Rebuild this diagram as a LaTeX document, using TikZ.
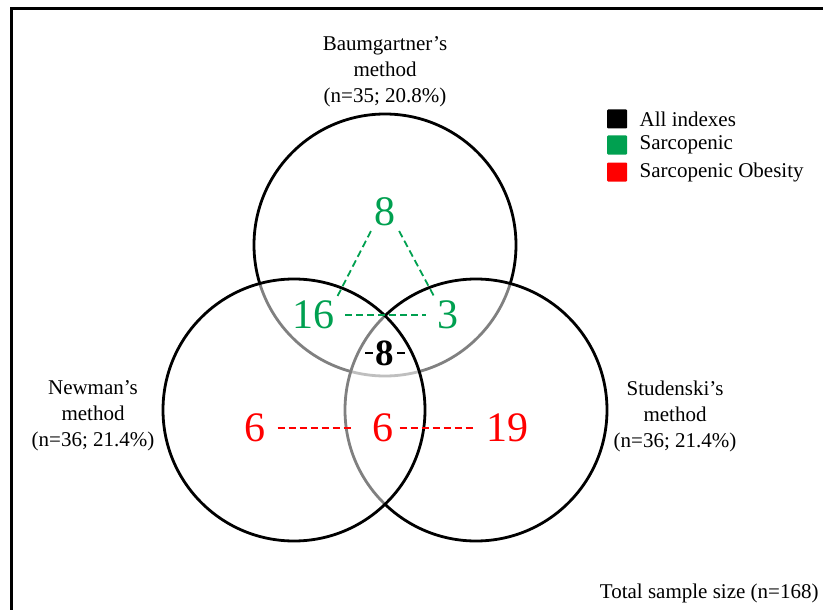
\documentclass[tikz,border=0pt]{standalone}
\usepackage{fontspec}
\setmainfont{Liberation Serif}
\usetikzlibrary{positioning}
\definecolor{sarcgreen}{RGB}{0,160,80}

\begin{document}
\begin{tikzpicture}[x=1pt, y=-1pt,
                    venn/.style={circle, draw=black, line width=2.8pt, fill=white, fill opacity=0.5, minimum size=262pt, inner sep=0pt},
                    method/.style={align=center, font=\fontsize{21}{26}\selectfont},
                    count/.style={font=\fontsize{42}{42}\selectfont, inner sep=2pt},
                    sarc/.style={dash pattern=on 7pt off 4pt, line width=1.8pt, sarcgreen},
                    obese/.style={dash pattern=on 7pt off 4pt, line width=1.8pt, red},
                    key/.style={rectangle, rounded corners=1pt, minimum width=20pt, minimum height=19pt, inner sep=0pt},
                    keytext/.style={font=\fontsize{21}{21}\selectfont}]

            \useasboundingbox (0,0) rectangle (823,610);
            \draw[line width=3pt] (11,615) -- (11,9) -- (830,9);

            % the three methods
            \node[venn] (baum) at (385,245) {};
            \node[venn] (stud) at (476,410) {};
            \node[venn] (newm) at (294,410) {};

            \node[method] (baumLbl) at (385,72)  {Baumgartner’s\\method\\(n=35; 20.8\%)};
            \node[method] (newmLbl) at (93,416)  {Newman’s\\method\\(n=36; 21.4\%)};
            \node[method] (studLbl) at (675,416) {Studenski’s\\method\\(n=36; 21.4\%)};

            % sarcopenic
            \node[count, text=sarcgreen] (g8)  at (385,212) {8};
            \node[count, text=sarcgreen] (g16) at (313,315) {16};
            \node[count, text=sarcgreen] (g3)  at (448,315) {3};

            \draw[sarc, shorten <=3pt] (g8.south west) -- (g16.north east);
            \draw[sarc, shorten <=3pt] (g8.south east) -- (g3.north west);
            \draw[sarc, shorten <=9pt, shorten >=9pt] (g16.east) -- (g3.west);

            % all indexes
            \node[font=\fontsize{37}{37}\selectfont\bfseries, inner sep=1pt] (all8) at (385,353) {8};
            \draw[line width=1.6pt] ([xshift=-2pt]all8.west) -- ++(-8,0);
            \draw[line width=1.6pt] ([xshift=2pt]all8.east) -- ++(8,0);

            % sarcopenic obesity
            \node[count, text=red] (r6a) at (255,428) {6};
            \node[count, text=red] (r6b) at (383,428) {6};
            \node[count, text=red] (r19) at (507,428) {19};

            \draw[obese, shorten <=10pt, shorten >=18pt] (r6a.east) -- (r6b.west);
            \draw[obese, shorten <=4pt, shorten >=9pt] (r6b.east) -- (r19.west);

            % legend
            \node[key, fill=black]     (keyAll)   at (617,119) {};
            \node[key, fill=sarcgreen] (keySarc)  at (617,145) {};
            \node[key, fill=red]       (keyObese) at (617,172) {};
            \node[keytext, right=9pt of keyAll]   (txtAll)   {All indexes};
            \node[keytext, right=9pt of keySarc]  (txtSarc)  {Sarcopenic};
            \node[keytext, right=9pt of keyObese] (txtObese) {Sarcopenic Obesity};

            \node[keytext, anchor=east] (total) at (822,593) {Total sample size (n=168)};
        \end{tikzpicture}
\end{document}
